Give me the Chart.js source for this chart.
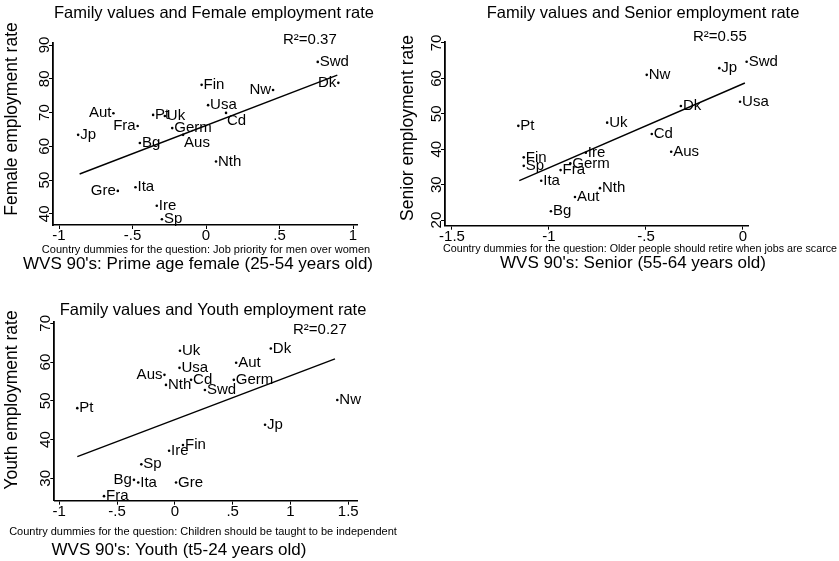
<!DOCTYPE html>
<html><head><meta charset="utf-8">
<script src="https://cdn.jsdelivr.net/npm/chart.js@4/dist/chart.umd.min.js"></script>
<style>
html,body{margin:0;padding:0;background:#fff;}
body{width:839px;height:561px;position:relative;overflow:hidden;}
canvas{position:absolute;}
</style></head><body>
<canvas id="c1" width="398" height="280" style="left:0px;top:0px"></canvas>
<canvas id="c2" width="441" height="280" style="left:398px;top:0px"></canvas>
<canvas id="c3" width="398" height="281" style="left:0px;top:280px"></canvas>
<script>
// ---------- Panel 1: Female ----------
const femCountries = ["Swd","Dk","Nw","Fin","Usa","Cd","Pt","Uk","Aut","Fra","Germ","Jp","Aus","Bg","Nth","Gre","Ita","Ire","Sp"];
const femX = [0.76, 0.90, 0.456, -0.03, 0.014, 0.136, -0.36, -0.28, -0.63, -0.465, -0.23, -0.87, -0.156, -0.45, 0.068, -0.60, -0.48, -0.335, -0.30];
const femY = [85.0, 78.8, 76.7, 78.2, 72.2, 69.9, 69.3, 69.0, 69.8, 66.0, 65.4, 63.4, 63.4, 61.0, 55.5, 46.8, 47.9, 42.4, 38.4];
const femLabelPos = [3,9,9,3,3,4,3,3,9,9,3,3,5,3,3,9,3,3,3];
const femFitX = [-0.86, 0.893];
const femFitY = [51.8, 81.1];
const femR2 = "R\u00b2=0.37";
const femXTicks = [-1, -0.5, 0, 0.5, 1];
const femXTickLabels = ["-1", "-.5", "0", ".5", "1"];
const femYTicks = [40, 50, 60, 70, 80, 90];
const femTitle = "Family values and Female employment rate";
const femYTitle = "Female employment rate";
const femCaption = "Country dummies for the question: Job priority for men over women";
const femXTitle = "WVS 90's: Prime age female (25-54 years old)";

// ---------- Panel 2: Senior ----------
const senCountries = ["Swd","Jp","Nw","Dk","Usa","Pt","Uk","Cd","Aus","Ire","Fin","Sp","Germ","Fra","Ita","Aut","Nth","Bg"];
const senX = [0.019, -0.122, -0.496, -0.32, -0.015, -1.158, -0.70, -0.47, -0.37, -0.81, -1.13, -1.13, -0.89, -0.94, -1.04, -0.866, -0.737, -0.99];
const senY = [64.7, 62.9, 61.0, 52.2, 53.4, 46.6, 47.5, 44.3, 39.3, 39.0, 37.7, 35.3, 36.0, 34.1, 31.1, 26.5, 29.0, 22.5];
const senLabelPos = [3,3,3,3,3,3,3,3,3,3,3,3,3,3,3,3,3,3];
const senFitX = [-1.153, 0.01];
const senFitY = [31.1, 58.7];
const senR2 = "R\u00b2=0.55";
const senXTicks = [-1.5, -1, -0.5, 0];
const senXTickLabels = ["-1.5", "-1", "-.5", "0"];
const senYTicks = [20, 30, 40, 50, 60, 70];
const senTitle = "Family values and Senior employment rate";
const senYTitle = "Senior employment rate";
const senCaption = "Country dummies for the question: Older people should retire when jobs are scarce";
const senXTitle = "WVS 90's: Senior (55-64 years old)";

// ---------- Panel 3: Youth ----------
const youCountries = ["Uk","Dk","Aut","Usa","Aus","Cd","Germ","Nth","Swd","Nw","Pt","Jp","Fin","Ire","Sp","Bg","Ita","Gre","Fra"];
const youX = [0.044, 0.83, 0.53, 0.04, -0.09, 0.14, 0.51, -0.077, 0.26, 1.405, -0.844, 0.78, 0.07, -0.05, -0.29, -0.354, -0.317, 0.01, -0.613];
const youY = [62.9, 63.5, 59.8, 58.5, 56.7, 55.4, 55.4, 54.1, 52.8, 50.2, 48.1, 43.8, 38.6, 37.1, 33.6, 29.6, 28.9, 28.9, 25.4];
const youLabelPos = [3,3,3,3,9,3,3,3,3,3,3,3,3,3,3,9,3,3,3];
const youFitX = [-0.844, 1.385];
const youFitY = [35.6, 60.8];
const youR2 = "R\u00b2=0.27";
const youXTicks = [-1, -0.5, 0, 0.5, 1, 1.5];
const youXTickLabels = ["-1", "-.5", "0", ".5", "1", "1.5"];
const youYTicks = [30, 40, 50, 60, 70];
const youTitle = "Family values and Youth employment rate";
const youYTitle = "Youth employment rate";
const youCaption = "Country dummies for the question: Children should be taught to be independent";
const youXTitle = "WVS 90's: Youth (t5-24 years old)";

const FAM = '"Liberation Sans", Arial, Helvetica, sans-serif';

function panelPlugin(p) {
  return {
    id: 'panelText' + p.id,
    afterDraw(chart) {
      const ctx = chart.ctx;
      const ox = p.ox, oy = p.oy;
      ctx.save();
      ctx.fillStyle = '#000';
      // marker labels
      const meta = chart.getDatasetMeta(0);
      ctx.font = '15px ' + FAM;
      ctx.textBaseline = 'middle';
      meta.data.forEach((el, i) => {
        const pos = p.labelPos[i];
        let tx = el.x, ty = el.y, al = 'left';
        if (pos === 3) { tx = el.x + 2; al = 'left'; }
        else if (pos === 9) { tx = el.x - 2; al = 'right'; }
        else if (pos === 6) { ty = el.y + 9; al = 'center'; }
        else if (pos === 4 || pos === 5) { tx = el.x + 1; ty = el.y + 8; al = 'left'; }
        ctx.textAlign = al;
        ctx.fillText(p.names[i], tx, ty);
      });
      // R2
      ctx.textAlign = 'left';
      ctx.font = '15px ' + FAM;
      ctx.fillText(p.r2, p.r2x - ox, p.r2y - oy);
      // title
      ctx.textAlign = 'center';
      ctx.font = '16.5px ' + FAM;
      ctx.fillText(p.title, p.tx - ox, p.ty - oy);
      // caption
      ctx.font = '11px ' + FAM;
      ctx.fillText(p.caption, p.cx - ox, p.cy - oy, p.cw);
      // x title
      ctx.font = '17px ' + FAM;
      ctx.fillText(p.xtitle, p.wx - ox, p.wy - oy);
      // y title
      ctx.save();
      ctx.translate(p.yx - ox, p.yy - oy);
      ctx.rotate(-Math.PI / 2);
      ctx.font = '17.5px ' + FAM;
      ctx.fillText(p.ytitle, 0, 0);
      ctx.restore();
      ctx.restore();
    }
  };
}

function makeChart(p) {
  const pts = p.xs.map((x, i) => ({ x: x, y: p.ys[i] }));
  const fit = p.fitX.map((x, i) => ({ x: x, y: p.fitY[i] }));
  return new Chart(document.getElementById(p.id), {
    type: 'scatter',
    data: {
      datasets: [
        { data: pts, pointRadius: 1.3, pointBackgroundColor: '#000', pointBorderWidth: 0, showLine: false },
        { type: 'line', data: fit, borderColor: '#000', borderWidth: 1.4, pointRadius: 0, fill: false, tension: 0 }
      ]
    },
    options: {
      responsive: false, animation: false, devicePixelRatio: 1,
      layout: { padding: p.pad },
      plugins: { legend: { display: false }, tooltip: { enabled: false }, title: { display: false } },
      scales: {
        x: {
          type: 'linear', min: p.xmin, max: p.xmax,
          afterBuildTicks: s => { s.ticks = p.xTicks.map(v => ({ value: v })); },
          afterFit: s => { s.height = p.xH; s.paddingLeft = 0; s.paddingRight = 0; },
          ticks: { callback: (v, i) => p.xTickLabels[i], font: { family: FAM, size: 15 }, color: '#000', minRotation: 0, maxRotation: 0, padding: -2, autoSkip: false },
          grid: { drawOnChartArea: false, color: '#000', tickLength: 4, lineWidth: 1 },
          border: { display: true, color: '#000', width: 1.5 }
        },
        y: {
          type: 'linear', min: p.ymin, max: p.ymax,
          afterBuildTicks: s => { s.ticks = p.yTicks.map(v => ({ value: v })); },
          afterFit: s => { s.width = p.yW; s.paddingTop = 0; s.paddingBottom = 0; },
          ticks: { callback: v => String(v), font: { family: FAM, size: 15 }, color: '#000', minRotation: 90, maxRotation: 90, crossAlign: 'center', padding: -4, autoSkip: false },
          grid: { drawOnChartArea: false, color: '#000', tickLength: 4, lineWidth: 1 },
          border: { display: true, color: '#000', width: 1.8 }
        }
      }
    },
    plugins: [panelPlugin(p)]
  });
}

makeChart({
  id: 'c1', ox: 0, oy: 0,
  names: femCountries, xs: femX, ys: femY, labelPos: femLabelPos,
  fitX: femFitX, fitY: femFitY, r2: femR2, r2x: 283, r2y: 40,
  xTicks: femXTicks, xTickLabels: femXTickLabels, yTicks: femYTicks,
  xmin: -1.041, xmax: 1.027, ymin: 36.7, ymax: 90.6,
  pad: { left: 0, top: 43, right: 41, bottom: 30 }, yW: 53, xH: 25,
  title: femTitle, tx: 214, ty: 13,
  ytitle: femYTitle, yx: 12, yy: 119,
  caption: femCaption, cx: 206, cy: 250, cw: 330,
  xtitle: femXTitle, wx: 198, wy: 264
});

makeChart({
  id: 'c2', ox: 398, oy: 0,
  names: senCountries, xs: senX, ys: senY, labelPos: senLabelPos,
  fitX: senFitX, fitY: senFitY, r2: senR2, r2x: 693, r2y: 37,
  xTicks: senXTicks, xTickLabels: senXTickLabels, yTicks: senYTicks,
  xmin: -1.536, xmax: 0.026, ymin: 18.4, ymax: 70.28,
  pad: { left: 0, top: 42, right: 91, bottom: 29.3 }, yW: 47, xH: 25,
  title: senTitle, tx: 643, ty: 13,
  ytitle: senYTitle, yx: 408, yy: 128,
  caption: senCaption, cx: 640, cy: 249, cw: 394,
  xtitle: senXTitle, wx: 633, wy: 263
});

makeChart({
  id: 'c3', ox: 0, oy: 280,
  names: youCountries, xs: youX, ys: youY, labelPos: youLabelPos,
  fitX: youFitX, fitY: youFitY, r2: youR2, r2x: 293, r2y: 330,
  xTicks: youXTicks, xTickLabels: youXTickLabels, yTicks: youYTicks,
  xmin: -1.043, xmax: 1.578, ymin: 24.22, ymax: 70.41,
  pad: { left: 0, top: 41.7, right: 40.7, bottom: 35.3 }, yW: 54.3, xH: 25,
  title: youTitle, tx: 213, ty: 310,
  ytitle: youYTitle, yx: 12, yy: 400,
  caption: youCaption, cx: 203, cy: 532, cw: 388,
  xtitle: youXTitle, wx: 179, wy: 550
});
</script>
</body></html>
